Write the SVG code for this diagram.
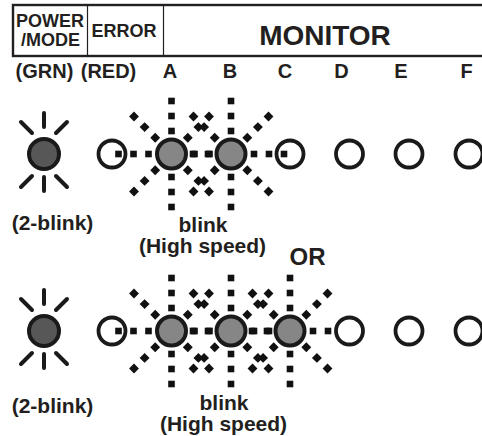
<svg xmlns="http://www.w3.org/2000/svg" xmlns:xlink="http://www.w3.org/1999/xlink" width="482" height="436" viewBox="0 0 482 436">
<style>
text{font-family:"Liberation Sans",Arial,sans-serif;font-weight:bold;fill:#231f20;text-anchor:middle}
.hd{font-size:18px}
.mon{font-size:28px}
.lb{font-size:20px}
.cap{font-size:21px}
.or{font-size:24px}
.frame{fill:none;stroke:#231f20;stroke-width:2.4}
.div{stroke:#231f20;stroke-width:1.2}
.open{fill:none;stroke:#1a1a1a;stroke-width:3.8}
.blink{fill:#868686;stroke:#1a1a1a;stroke-width:4}
.pwr{fill:#575757;stroke:#1a1a1a;stroke-width:4}
.ray{stroke:#1a1a1a;stroke-width:4;stroke-linecap:round}
.mk{fill:#111}
</style>
<defs>
<rect id="sq" class="mk" x="-3.3" y="-3.3" width="6.6" height="6.6"/>
<rect id="dm" class="mk" x="-3.5" y="-3.5" width="7" height="7" transform="rotate(45)"/>
<g id="burstCore">
<use xlink:href="#sq" x="-53" y="0"/><use xlink:href="#sq" x="-38" y="0"/><use xlink:href="#sq" x="-23" y="0"/>
<use xlink:href="#sq" x="23" y="0"/><use xlink:href="#sq" x="38" y="0"/>
<use xlink:href="#sq" x="0" y="-53"/><use xlink:href="#sq" x="0" y="-38"/><use xlink:href="#sq" x="0" y="-23"/>
<use xlink:href="#sq" x="0" y="23"/><use xlink:href="#sq" x="0" y="38"/><use xlink:href="#sq" x="0" y="53"/>
<use xlink:href="#dm" x="-16.3" y="-16.3"/><use xlink:href="#dm" x="-26.9" y="-26.9"/><use xlink:href="#dm" x="-37.5" y="-37.5"/>
<use xlink:href="#dm" x="16.3" y="-16.3"/><use xlink:href="#dm" x="26.9" y="-26.9"/><use xlink:href="#dm" x="37.5" y="-37.5"/>
<use xlink:href="#dm" x="-16.3" y="16.3"/><use xlink:href="#dm" x="-26.9" y="26.9"/><use xlink:href="#dm" x="-37.5" y="37.5"/>
<use xlink:href="#dm" x="16.3" y="16.3"/><use xlink:href="#dm" x="26.9" y="26.9"/><use xlink:href="#dm" x="37.5" y="37.5"/>
</g>
<g id="burst">
<use xlink:href="#burstCore"/>
<use xlink:href="#sq" x="53" y="0"/>
</g>
<g id="rays">
<line class="ray" x1="0" y1="-41" x2="0" y2="-27"/>
<line class="ray" x1="0" y1="23" x2="0" y2="37"/>
<line class="ray" x1="-23" y1="-32" x2="-12" y2="-21"/>
<line class="ray" x1="23" y1="-32" x2="12" y2="-21"/>
<line class="ray" x1="-23" y1="33" x2="-12" y2="22"/>
<line class="ray" x1="23" y1="33" x2="12" y2="22"/>
</g>
</defs>

<g id="header">
<rect class="frame" x="13" y="5" width="480" height="51"/>
<line class="div" x1="87.5" y1="5" x2="87.5" y2="56"/>
<line class="div" x1="163.5" y1="5" x2="163.5" y2="56"/>
<text class="hd" x="50" y="26.5">POWER</text>
<text class="hd" x="50.5" y="45.5">/MODE</text>
<text class="hd" x="124" y="37">ERROR</text>
<text class="mon" x="325" y="45">MONITOR</text>
</g>

<g id="labels">
<text class="lb" x="44.5" y="78">(GRN)</text>
<text class="lb" x="108.5" y="78">(RED)</text>
<text class="lb" x="170" y="78">A</text>
<text class="lb" x="230" y="78">B</text>
<text class="lb" x="285" y="78">C</text>
<text class="lb" x="341.5" y="78">D</text>
<text class="lb" x="401" y="78">E</text>
<text class="lb" x="466.5" y="78">F</text>
</g>

<g id="row1">
<g id="r1-power">
<use xlink:href="#rays" x="44" y="154"/>
<circle class="pwr" cx="44" cy="154" r="15"/>
</g>
<g id="r1-open">
<circle class="open" cx="112" cy="154" r="13.5"/>
<circle class="open" cx="290" cy="154" r="13.5"/>
<circle class="open" cx="349.5" cy="154" r="13.5"/>
<circle class="open" cx="409" cy="154" r="13.5"/>
<circle class="open" cx="469" cy="154" r="13.5"/>
</g>
<g id="r1-bursts">
<use xlink:href="#burst" x="171.5" y="154"/>
<use xlink:href="#burst" x="231" y="154"/>
</g>
<g id="r1-blink">
<circle class="blink" cx="171.5" cy="154" r="14.5"/>
<circle class="blink" cx="231" cy="154" r="14.5"/>
</g>
<text class="cap" x="52.5" y="230">(2-blink)</text>
<text class="cap" x="203" y="232">blink</text>
<text class="cap" x="202.5" y="253">(High speed)</text>
</g>

<text class="or" x="307.5" y="265">OR</text>

<g id="row2">
<g id="r2-power">
<use xlink:href="#rays" x="44" y="331"/>
<circle class="pwr" cx="44" cy="331" r="15"/>
</g>
<g id="r2-open">
<circle class="open" cx="112" cy="331" r="13.5"/>
<circle class="open" cx="349.5" cy="331" r="13.5"/>
<circle class="open" cx="409" cy="331" r="13.5"/>
<circle class="open" cx="469" cy="331" r="13.5"/>
</g>
<g id="r2-bursts">
<use xlink:href="#burst" x="171.5" y="331"/>
<use xlink:href="#burst" x="231" y="331"/>
<use xlink:href="#burstCore" x="290" y="331"/>
</g>
<g id="r2-blink">
<circle class="blink" cx="171.5" cy="331" r="14.5"/>
<circle class="blink" cx="231" cy="331" r="14.5"/>
<circle class="blink" cx="290" cy="331" r="14.5"/>
</g>
<text class="cap" x="52.5" y="413">(2-blink)</text>
<text class="cap" x="224" y="410">blink</text>
<text class="cap" x="223.5" y="431">(High speed)</text>
</g>
</svg>
